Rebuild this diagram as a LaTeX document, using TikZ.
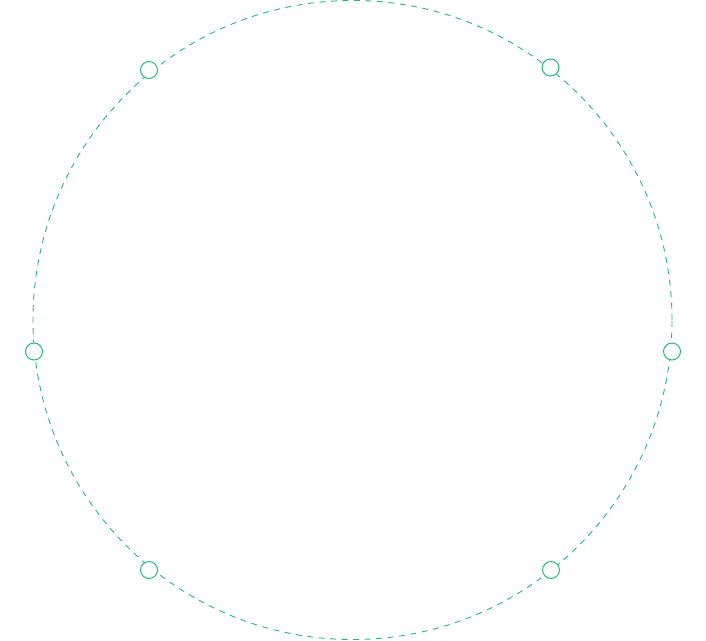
\documentclass[tikz,border=0pt]{standalone}
\usetikzlibrary{positioning}
\definecolor{ringgreen}{RGB}{38,185,128}
\begin{document}
\begin{tikzpicture}[
        x = 1pt,
        y = -1pt,
      ]
      \useasboundingbox (0,0) rectangle (706,640);

      \coordinate (O) at (352.5,320);
      \draw[
        ringgreen,
        line width = 0.9pt,
        dash pattern = on 6pt off 5.5pt,
      ] (O) circle (319.5pt);

      \foreach \name/\x/\y in {
        topleft/149/70,
        topright/550.5/67.5,
        left/34/351.5,
        right/672/351.5,
        bottomleft/149/570,
        bottomright/551/570
      }{
        \node[
          circle,
          draw = ringgreen,
          fill = white,
          line width = 1pt,
          minimum size = 17pt,
          outer sep = 0,
          inner sep = 0,
        ] (\name) at (\x,\y) {};
      }

    \end{tikzpicture}
\end{document}
